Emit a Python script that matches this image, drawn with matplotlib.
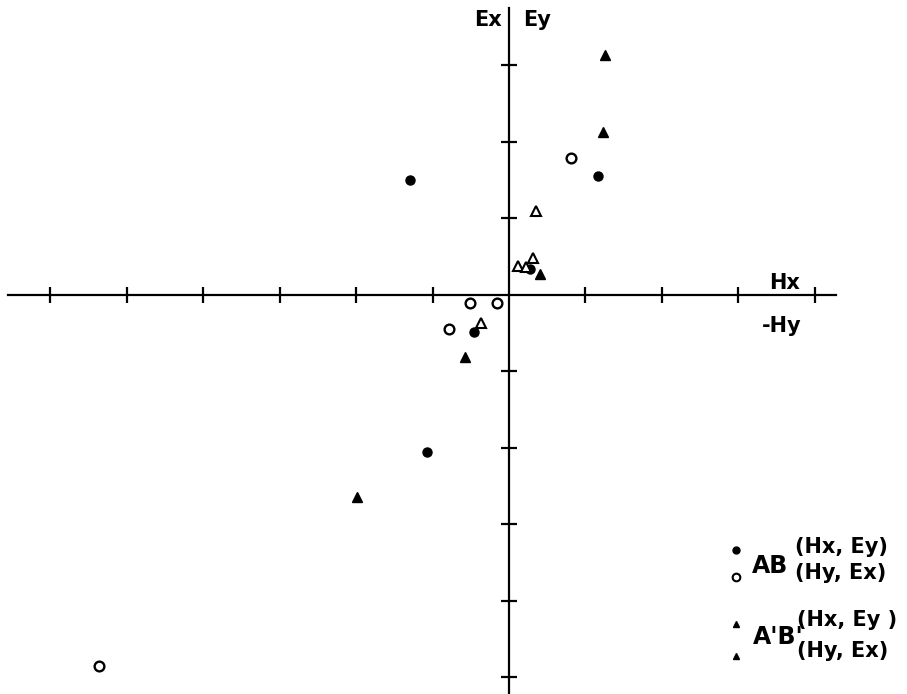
import matplotlib.pyplot as plt

# AB measurements (tick units)
ab_hx_ey_x = [-1.29, 1.17, 0.27, -0.46, -1.07]
ab_hx_ey_y = [1.50, 1.55, 0.34, -0.49, -2.05]
ab_hy_ex_x = [0.81, -0.51, -0.16, -0.79, -5.36]
ab_hy_ex_y = [1.79, -0.10, -0.10, -0.44, -4.85]

# A'B' measurements
apbp_hx_ey_x = [1.26, 1.23, 0.41, -0.58, -1.99]
apbp_hx_ey_y = [3.14, 2.13, 0.27, -0.81, -2.64]
apbp_hy_ex_x = [0.35, 0.31, 0.12, 0.22, -0.36]
apbp_hy_ex_y = [1.10, 0.48, 0.38, 0.37, -0.36]

xticks = [-6, -5, -4, -3, -2, -1, 1, 2, 3, 4]
yticks = [-5, -4, -3, -2, -1, 1, 2, 3]

plt.rcParams['font.family'] = 'DejaVu Sans'

fig = plt.figure(figsize=(9.07, 6.94), dpi=100)
ax = fig.add_axes([0, 0, 1, 1])
ax.set_xlim(-6.654, 5.203)
ax.set_ylim(-5.216, 3.856)

for s in ['top', 'right']:
    ax.spines[s].set_visible(False)
ax.spines['left'].set_position('zero')
ax.spines['bottom'].set_position('zero')
ax.spines['left'].set_bounds(-5.3, 3.75)
ax.spines['bottom'].set_bounds(-6.55, 4.27)
for s in ['left', 'bottom']:
    ax.spines[s].set_linewidth(1.6)
ax.set_xticks(xticks)
ax.set_yticks(yticks)
ax.set_xticklabels([])
ax.set_yticklabels([])
ax.tick_params(direction='inout', length=11, width=1.6, color='black')

ax.plot(ab_hx_ey_x, ab_hx_ey_y, 'o', color='black', markersize=6.5, clip_on=False)
ax.plot(ab_hy_ex_x, ab_hy_ex_y, 'o', mfc='white', mec='black', mew=1.7, markersize=7, clip_on=False)
ax.plot(apbp_hx_ey_x, apbp_hx_ey_y, '^', color='black', markersize=6.5, clip_on=False)
ax.plot(apbp_hy_ex_x, apbp_hy_ex_y, '^', mfc='white', mec='black', mew=1.5, markersize=6.5, clip_on=False)

# axis labels
lab = dict(fontsize=15, fontweight='bold', ha='center', va='center')
ax.text(-0.28, 3.6, 'Ex', **lab)
ax.text(0.37, 3.6, 'Ey', **lab)
ax.text(3.6, 0.16, 'Hx', **lab)
ax.text(3.56, -0.41, '-Hy', **lab)

# legend drawn by hand
ax.plot([2.97], [-3.34], 'o', color='black', markersize=5)
ax.plot([2.97], [-3.69], 'o', mfc='white', mec='black', mew=1.5, markersize=5.5)
ax.plot([2.97], [-4.30], '^', color='black', markersize=5)
ax.plot([2.97], [-4.72], '^', color='black', markersize=5)
ax.text(3.18, -3.63, 'AB', fontsize=17, fontweight='bold', ha='left', va='baseline')
ax.text(3.74, -3.37, '(Hx, Ey)', fontsize=15, fontweight='bold', ha='left', va='baseline')
ax.text(3.74, -3.71, '(Hy, Ex)', fontsize=15, fontweight='bold', ha='left', va='baseline')
ax.text(3.19, -4.56, "A'B'", fontsize=17, fontweight='bold', ha='left', va='baseline')
ax.text(3.76, -4.33, '(Hx, Ey )', fontsize=15, fontweight='bold', ha='left', va='baseline')
ax.text(3.76, -4.73, '(Hy, Ex)', fontsize=15, fontweight='bold', ha='left', va='baseline')

plt.savefig('out.png', dpi=100)
plt.close()
